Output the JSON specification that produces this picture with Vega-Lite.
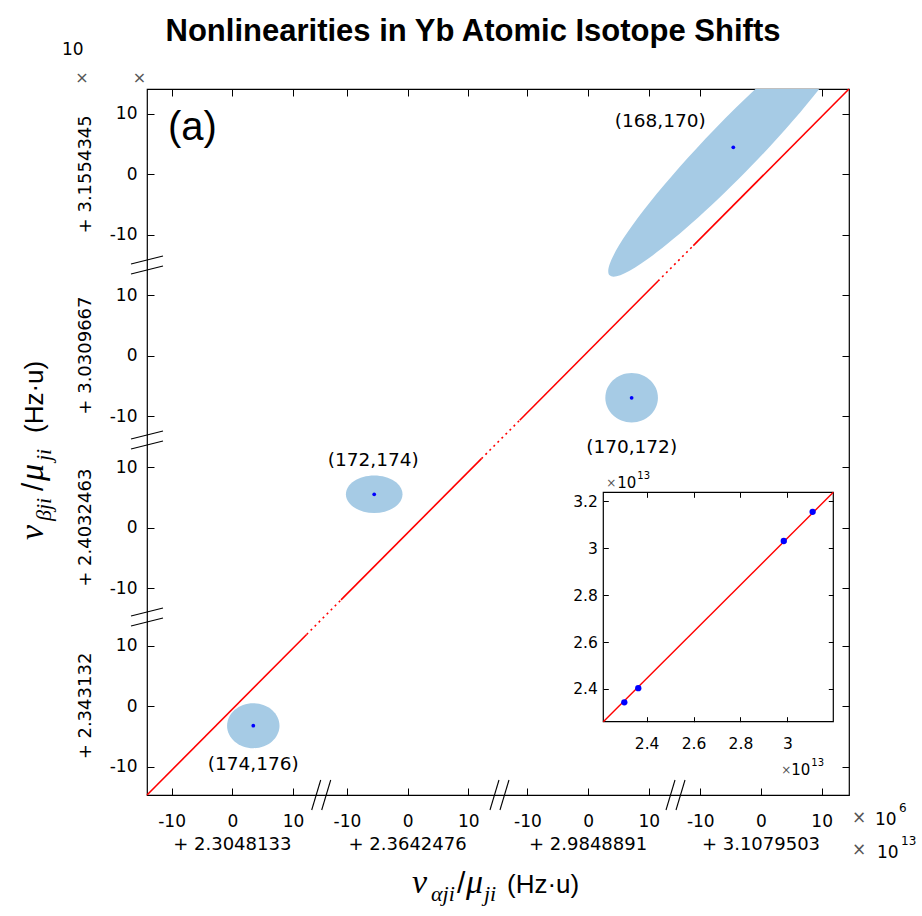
{
  "$schema": "https://vega.github.io/schema/vega-lite/v6.json",
  "width": 702,
  "height": 706,
  "autosize": {"type": "none"},
  "padding": {"left": 147, "top": 89, "right": 73, "bottom": 121},
  "background": "white",
  "title": {"text": "Nonlinearities in Yb Atomic Isotope Shifts", "font": "Liberation Sans", "fontSize": 31, "fontWeight": "bold", "color": "#000", "anchor": "middle", "frame": "group", "baseline": "alphabetic", "offset": 3, "dx": -25, "dy": 34},
  "config": {
    "view": {"stroke": "#000", "strokeWidth": 1.2},
    "axis": {"grid": false, "domain": false, "tickColor": "#000", "labelColor": "#000", "labelFont": "DejaVu Sans", "labelFontSize": 17, "tickWidth": 1, "labelFlush": false, "labelOverlap": false, "labelBound": false, "zindex": 1},
    "text": {"font": "DejaVu Sans", "color": "#000"}
  },
  "datasets": {
    "pairs": [
      {"pair": "(168,170)", "seg": 3, "xBase": 3.1079503, "yBase": 3.1554345, "xDev": -4.56, "yDev": 4.46},
      {"pair": "(170,172)", "seg": 2, "xBase": 2.9848891, "yBase": 3.0309667, "xDev": 7.17, "yDev": -6.98},
      {"pair": "(172,174)", "seg": 1, "xBase": 2.3642476, "yBase": 2.4032463, "xDev": -5.5, "yDev": 5.52},
      {"pair": "(174,176)", "seg": 0, "xBase": 2.3048133, "yBase": 2.343132, "xDev": 3.46, "yDev": -3.26}
    ],
    "fit": [
      {"piece": 1, "kind": "segment", "xseg": 0, "xDev": -14.05, "yseg": 0, "yDev": -14.71},
      {"piece": 1, "kind": "segment", "xseg": 0, "xDev": 12.25, "yseg": 0, "yDev": 11.83},
      {"piece": 2, "kind": "gap", "xseg": 0, "xDev": 12.25, "yseg": 0, "yDev": 11.83},
      {"piece": 2, "kind": "gap", "xseg": 1, "xDev": -10.97, "yseg": 1, "yDev": -11.93},
      {"piece": 3, "kind": "segment", "xseg": 1, "xDev": -10.97, "yseg": 1, "yDev": -11.93},
      {"piece": 3, "kind": "segment", "xseg": 1, "xDev": 12.17, "yseg": 1, "yDev": 11.42},
      {"piece": 4, "kind": "gap", "xseg": 1, "xDev": 12.17, "yseg": 1, "yDev": 11.42},
      {"piece": 4, "kind": "gap", "xseg": 2, "xDev": -11.27, "yseg": 2, "yDev": -10.69},
      {"piece": 5, "kind": "segment", "xseg": 2, "xDev": -11.27, "yseg": 2, "yDev": -10.69},
      {"piece": 5, "kind": "segment", "xseg": 2, "xDev": 11.53, "yseg": 2, "yDev": 12.32},
      {"piece": 6, "kind": "gap", "xseg": 2, "xDev": 11.53, "yseg": 2, "yDev": 12.32},
      {"piece": 6, "kind": "gap", "xseg": 3, "xDev": -11.15, "yseg": 3, "yDev": -11.79},
      {"piece": 7, "kind": "segment", "xseg": 3, "xDev": -11.15, "yseg": 3, "yDev": -11.79},
      {"piece": 7, "kind": "segment", "xseg": 3, "xDev": 14.5, "yseg": 3, "yDev": 14.1}
    ],
    "breaks": [
      {"axis": "x", "seg": 0, "dev": 14.73},
      {"axis": "x", "seg": 1, "dev": 15.22},
      {"axis": "x", "seg": 2, "dev": 14.48},
      {"axis": "y", "seg": 0, "dev": 14.71},
      {"axis": "y", "seg": 1, "dev": 14.5},
      {"axis": "y", "seg": 2, "dev": 14.96}
    ],
    "insetFit": [
      {"xBase": 2.2152, "yBase": 2.2604},
      {"xBase": 3.1961, "yBase": 3.2386}
    ]
  },
  "layer": [
    {"data": {"name": "pairs"},
     "transform": [{"filter": "datum.pair === '(174,176)'"}, {"calculate": "[14.05,42.93,72.67,101.15][datum.seg] + datum.xDev", "as": "xp"}, {"calculate": "[14.71,44.18,72.64,102.6][datum.seg] + datum.yDev", "as": "yp"}],
     "mark": {"type": "point", "shape": "M1,0C1,0.474 0.552,0.859 0,0.859C-0.552,0.859 -1,0.474 -1,0C-1,-0.474 -0.552,-0.859 0,-0.859C0.552,-0.859 1,-0.474 1,0Z", "size": 2746, "filled": true, "color": "#a6cbe5", "opacity": 1, "strokeWidth": 0},
     "encoding": {"x": {"field": "xp", "type": "quantitative", "scale": {"domain": [0, 115.65], "nice": false, "zero": false}, "axis": null}, "y": {"field": "yp", "type": "quantitative", "scale": {"domain": [0, 116.7], "nice": false, "zero": false}, "axis": null}}},
    {"data": {"name": "pairs"},
     "transform": [{"filter": "datum.pair === '(172,174)'"}, {"calculate": "[14.05,42.93,72.67,101.15][datum.seg] + datum.xDev", "as": "xp"}, {"calculate": "[14.71,44.18,72.64,102.6][datum.seg] + datum.yDev", "as": "yp"}],
     "mark": {"type": "point", "shape": "M1,0C1,0.365 0.552,0.661 0,0.661C-0.552,0.661 -1,0.365 -1,0C-1,-0.365 -0.552,-0.661 0,-0.661C0.552,-0.661 1,-0.365 1,0Z", "size": 3204, "filled": true, "color": "#a6cbe5", "opacity": 1, "strokeWidth": 0},
     "encoding": {"x": {"field": "xp", "type": "quantitative", "scale": {"domain": [0, 115.65], "nice": false, "zero": false}, "axis": null}, "y": {"field": "yp", "type": "quantitative", "scale": {"domain": [0, 116.7], "nice": false, "zero": false}, "axis": null}}},
    {"data": {"name": "pairs"},
     "transform": [{"filter": "datum.pair === '(170,172)'"}, {"calculate": "[14.05,42.93,72.67,101.15][datum.seg] + datum.xDev", "as": "xp"}, {"calculate": "[14.71,44.18,72.64,102.6][datum.seg] + datum.yDev", "as": "yp"}],
     "mark": {"type": "point", "shape": "M1,0C1,0.519 0.552,0.939 0,0.939C-0.552,0.939 -1,0.519 -1,0C-1,-0.519 -0.552,-0.939 0,-0.939C0.552,-0.939 1,-0.519 1,0Z", "size": 2767, "filled": true, "color": "#a6cbe5", "opacity": 1, "strokeWidth": 0},
     "encoding": {"x": {"field": "xp", "type": "quantitative", "scale": {"domain": [0, 115.65], "nice": false, "zero": false}, "axis": null}, "y": {"field": "yp", "type": "quantitative", "scale": {"domain": [0, 116.7], "nice": false, "zero": false}, "axis": null}}},
    {"data": {"name": "pairs"},
     "transform": [{"filter": "datum.pair === '(168,170)'"}, {"calculate": "[14.05,42.93,72.67,101.15][datum.seg] + datum.xDev", "as": "xp"}, {"calculate": "[14.71,44.18,72.64,102.6][datum.seg] + datum.yDev", "as": "yp"}],
     "mark": {"type": "point", "shape": "M1,0C1,0.0806 0.552,0.146 0,0.146C-0.552,0.146 -1,0.0806 -1,0C-1,-0.0806 -0.552,-0.146 0,-0.146C0.552,-0.146 1,-0.0806 1,0Z", "size": 126736, "angle": -46, "filled": true, "color": "#a6cbe5", "opacity": 1, "strokeWidth": 0, "clip": true},
     "encoding": {"x": {"field": "xp", "type": "quantitative", "scale": {"domain": [0, 115.65], "nice": false, "zero": false}, "axis": null}, "y": {"field": "yp", "type": "quantitative", "scale": {"domain": [0, 116.7], "nice": false, "zero": false}, "axis": null}}},
    {"data": {"name": "fit"},
     "transform": [{"filter": "datum.kind === 'segment'"}, {"calculate": "[14.05,42.93,72.67,101.15][datum.xseg] + datum.xDev", "as": "xp"}, {"calculate": "[14.71,44.18,72.64,102.6][datum.yseg] + datum.yDev", "as": "yp"}],
     "mark": {"type": "line", "color": "#ff0000", "strokeWidth": 1.6},
     "encoding": {"x": {"field": "xp", "type": "quantitative", "scale": {"domain": [0, 115.65], "nice": false, "zero": false}, "axis": null}, "y": {"field": "yp", "type": "quantitative", "scale": {"domain": [0, 116.7], "nice": false, "zero": false}, "axis": null}, "detail": {"field": "piece"}}},
    {"data": {"name": "fit"},
     "transform": [{"filter": "datum.kind === 'gap'"}, {"calculate": "[14.05,42.93,72.67,101.15][datum.xseg] + datum.xDev", "as": "xp"}, {"calculate": "[14.71,44.18,72.64,102.6][datum.yseg] + datum.yDev", "as": "yp"}],
     "mark": {"type": "line", "color": "#ff0000", "strokeWidth": 1.6, "strokeDash": [2, 3.7]},
     "encoding": {"x": {"field": "xp", "type": "quantitative", "scale": {"domain": [0, 115.65], "nice": false, "zero": false}, "axis": null}, "y": {"field": "yp", "type": "quantitative", "scale": {"domain": [0, 116.7], "nice": false, "zero": false}, "axis": null}, "detail": {"field": "piece"}}},
    {"data": {"name": "pairs"},
     "transform": [{"calculate": "[14.05,42.93,72.67,101.15][datum.seg] + datum.xDev", "as": "xp"}, {"calculate": "[14.71,44.18,72.64,102.6][datum.seg] + datum.yDev", "as": "yp"}],
     "mark": {"type": "point", "shape": "circle", "filled": true, "color": "#0000ff", "opacity": 1, "size": 14},
     "encoding": {"x": {"field": "xp", "type": "quantitative", "scale": {"domain": [0, 115.65], "nice": false, "zero": false}, "axis": null}, "y": {"field": "yp", "type": "quantitative", "scale": {"domain": [0, 116.7], "nice": false, "zero": false}, "axis": null}}},
    {"data": {"name": "pairs"},
     "transform": [{"filter": "datum.pair === '(168,170)'"}, {"calculate": "[14.05,42.93,72.67,101.15][datum.seg] + datum.xDev", "as": "xp"}, {"calculate": "[14.71,44.18,72.64,102.6][datum.seg] + datum.yDev", "as": "yp"}],
     "mark": {"type": "text", "fontSize": 18.5, "align": "center", "baseline": "middle", "dx": -73, "dy": -26},
     "encoding": {"x": {"field": "xp", "type": "quantitative", "scale": {"domain": [0, 115.65], "nice": false, "zero": false}, "axis": null}, "y": {"field": "yp", "type": "quantitative", "scale": {"domain": [0, 116.7], "nice": false, "zero": false}, "axis": null}, "text": {"field": "pair"}}},
    {"data": {"name": "pairs"},
     "transform": [{"filter": "datum.pair === '(170,172)'"}, {"calculate": "[14.05,42.93,72.67,101.15][datum.seg] + datum.xDev", "as": "xp"}, {"calculate": "[14.71,44.18,72.64,102.6][datum.seg] + datum.yDev", "as": "yp"}],
     "mark": {"type": "text", "fontSize": 18.5, "align": "center", "baseline": "middle", "dx": 0, "dy": 49},
     "encoding": {"x": {"field": "xp", "type": "quantitative", "scale": {"domain": [0, 115.65], "nice": false, "zero": false}, "axis": null}, "y": {"field": "yp", "type": "quantitative", "scale": {"domain": [0, 116.7], "nice": false, "zero": false}, "axis": null}, "text": {"field": "pair"}}},
    {"data": {"name": "pairs"},
     "transform": [{"filter": "datum.pair === '(172,174)'"}, {"calculate": "[14.05,42.93,72.67,101.15][datum.seg] + datum.xDev", "as": "xp"}, {"calculate": "[14.71,44.18,72.64,102.6][datum.seg] + datum.yDev", "as": "yp"}],
     "mark": {"type": "text", "fontSize": 18.5, "align": "center", "baseline": "middle", "dx": -1, "dy": -34},
     "encoding": {"x": {"field": "xp", "type": "quantitative", "scale": {"domain": [0, 115.65], "nice": false, "zero": false}, "axis": null}, "y": {"field": "yp", "type": "quantitative", "scale": {"domain": [0, 116.7], "nice": false, "zero": false}, "axis": null}, "text": {"field": "pair"}}},
    {"data": {"name": "pairs"},
     "transform": [{"filter": "datum.pair === '(174,176)'"}, {"calculate": "[14.05,42.93,72.67,101.15][datum.seg] + datum.xDev", "as": "xp"}, {"calculate": "[14.71,44.18,72.64,102.6][datum.seg] + datum.yDev", "as": "yp"}],
     "mark": {"type": "text", "fontSize": 18.5, "align": "center", "baseline": "middle", "dx": 0, "dy": 38},
     "encoding": {"x": {"field": "xp", "type": "quantitative", "scale": {"domain": [0, 115.65], "nice": false, "zero": false}, "axis": null}, "y": {"field": "yp", "type": "quantitative", "scale": {"domain": [0, 116.7], "nice": false, "zero": false}, "axis": null}, "text": {"field": "pair"}}},
    {"data": {"name": "pairs"},
     "transform": [{"calculate": "[14.05,42.93,72.67,101.15][datum.seg]", "as": "x0"}, {"calculate": "'+ ' + datum.xBase", "as": "xLabel"}],
     "mark": {"type": "text", "fontSize": 18, "align": "center", "baseline": "middle", "dy": 50},
     "encoding": {"x": {"field": "x0", "type": "quantitative", "scale": {"domain": [0, 115.65], "nice": false, "zero": false}, "axis": null}, "y": {"datum": 0, "scale": {"domain": [0, 116.7], "nice": false, "zero": false}, "axis": null}, "text": {"field": "xLabel"}}},
    {"data": {"name": "pairs"},
     "transform": [{"calculate": "[14.71,44.18,72.64,102.6][datum.seg]", "as": "y0"}, {"calculate": "'+ ' + datum.yBase", "as": "yLabel"}],
     "mark": {"type": "text", "fontSize": 18, "align": "center", "baseline": "middle", "angle": 270, "dy": -61},
     "encoding": {"x": {"datum": 0, "scale": {"domain": [0, 115.65], "nice": false, "zero": false}, "axis": null}, "y": {"field": "y0", "type": "quantitative", "scale": {"domain": [0, 116.7], "nice": false, "zero": false}, "axis": null}, "text": {"field": "yLabel"}}},
    {"data": {"name": "breaks"},
     "transform": [{"filter": "datum.axis === 'x'"}, {"calculate": "[14.05,42.93,72.67,101.15][datum.seg] + datum.dev", "as": "xp"}],
     "mark": {"type": "rule", "color": "#000", "strokeWidth": 1.1, "xOffset": -10, "x2Offset": -1, "yOffset": 15, "y2Offset": -15},
     "encoding": {"x": {"field": "xp", "type": "quantitative", "scale": {"domain": [0, 115.65], "nice": false, "zero": false}, "axis": null}, "x2": {"field": "xp"}, "y": {"datum": 0, "scale": {"domain": [0, 116.7], "nice": false, "zero": false}, "axis": null}, "y2": {"datum": 0}}},
    {"data": {"name": "breaks"},
     "transform": [{"filter": "datum.axis === 'x'"}, {"calculate": "[14.05,42.93,72.67,101.15][datum.seg] + datum.dev", "as": "xp"}],
     "mark": {"type": "rule", "color": "#000", "strokeWidth": 1.1, "xOffset": 0, "x2Offset": 9, "yOffset": 15, "y2Offset": -15},
     "encoding": {"x": {"field": "xp", "type": "quantitative", "scale": {"domain": [0, 115.65], "nice": false, "zero": false}, "axis": null}, "x2": {"field": "xp"}, "y": {"datum": 0, "scale": {"domain": [0, 116.7], "nice": false, "zero": false}, "axis": null}, "y2": {"datum": 0}}},
    {"data": {"name": "breaks"},
     "transform": [{"filter": "datum.axis === 'y'"}, {"calculate": "[14.71,44.18,72.64,102.6][datum.seg] + datum.dev", "as": "yp"}],
     "mark": {"type": "rule", "color": "#000", "strokeWidth": 1.1, "xOffset": -16, "x2Offset": 16, "yOffset": -1, "y2Offset": -9},
     "encoding": {"x": {"datum": 0, "scale": {"domain": [0, 115.65], "nice": false, "zero": false}, "axis": null}, "x2": {"datum": 0}, "y": {"field": "yp", "type": "quantitative", "scale": {"domain": [0, 116.7], "nice": false, "zero": false}, "axis": null}, "y2": {"field": "yp"}}},
    {"data": {"name": "breaks"},
     "transform": [{"filter": "datum.axis === 'y'"}, {"calculate": "[14.71,44.18,72.64,102.6][datum.seg] + datum.dev", "as": "yp"}],
     "mark": {"type": "rule", "color": "#000", "strokeWidth": 1.1, "xOffset": -16, "x2Offset": 16, "yOffset": 9, "y2Offset": 1},
     "encoding": {"x": {"datum": 0, "scale": {"domain": [0, 115.65], "nice": false, "zero": false}, "axis": null}, "x2": {"datum": 0}, "y": {"field": "yp", "type": "quantitative", "scale": {"domain": [0, 116.7], "nice": false, "zero": false}, "axis": null}, "y2": {"field": "yp"}}},
    {"data": {"values": [{}]},
     "mark": {"type": "text", "text": "(a)", "font": "Liberation Sans", "fontSize": 40, "align": "left", "baseline": "middle", "dx": 21, "dy": 39},
     "encoding": {"x": {"datum": 0, "scale": {"domain": [0, 115.65], "nice": false, "zero": false}, "axis": null}, "y": {"datum": 116.7, "scale": {"domain": [0, 116.7], "nice": false, "zero": false}, "axis": null}}},
    {"data": {"values": [{}]},
     "mark": {"type": "text", "text": "10", "fontSize": 17, "align": "left", "baseline": "alphabetic", "dx": -85, "dy": -34},
     "encoding": {"x": {"datum": 0, "scale": {"domain": [0, 115.65], "nice": false, "zero": false}, "axis": null}, "y": {"datum": 116.7, "scale": {"domain": [0, 116.7], "nice": false, "zero": false}, "axis": null}}},
    {"data": {"values": [{}]},
     "mark": {"type": "text", "text": "×", "fontSize": 16, "color": "#555", "align": "center", "baseline": "middle", "dx": -65, "dy": -11},
     "encoding": {"x": {"datum": 0, "scale": {"domain": [0, 115.65], "nice": false, "zero": false}, "axis": null}, "y": {"datum": 116.7, "scale": {"domain": [0, 116.7], "nice": false, "zero": false}, "axis": null}}},
    {"data": {"values": [{}]},
     "mark": {"type": "text", "text": "×", "fontSize": 16, "color": "#555", "align": "center", "baseline": "middle", "dx": -7.5, "dy": -11},
     "encoding": {"x": {"datum": 0, "scale": {"domain": [0, 115.65], "nice": false, "zero": false}, "axis": null}, "y": {"datum": 116.7, "scale": {"domain": [0, 116.7], "nice": false, "zero": false}, "axis": null}}},
    {"data": {"values": [{}]},
     "mark": {"type": "text", "text": "×", "fontSize": 17, "color": "#555", "align": "center", "baseline": "middle", "dx": 10, "dy": 23},
     "encoding": {"x": {"datum": 115.65, "scale": {"domain": [0, 115.65], "nice": false, "zero": false}, "axis": null}, "y": {"datum": 0, "scale": {"domain": [0, 116.7], "nice": false, "zero": false}, "axis": null}}},
    {"data": {"values": [{}]},
     "mark": {"type": "text", "text": "10", "fontSize": 17, "align": "left", "baseline": "alphabetic", "dx": 26, "dy": 30},
     "encoding": {"x": {"datum": 115.65, "scale": {"domain": [0, 115.65], "nice": false, "zero": false}, "axis": null}, "y": {"datum": 0, "scale": {"domain": [0, 116.7], "nice": false, "zero": false}, "axis": null}}},
    {"data": {"values": [{}]},
     "mark": {"type": "text", "text": "6", "fontSize": 12, "align": "left", "baseline": "alphabetic", "dx": 50, "dy": 17},
     "encoding": {"x": {"datum": 115.65, "scale": {"domain": [0, 115.65], "nice": false, "zero": false}, "axis": null}, "y": {"datum": 0, "scale": {"domain": [0, 116.7], "nice": false, "zero": false}, "axis": null}}},
    {"data": {"values": [{}]},
     "mark": {"type": "text", "text": "×", "fontSize": 17, "color": "#555", "align": "center", "baseline": "middle", "dx": 10, "dy": 55},
     "encoding": {"x": {"datum": 115.65, "scale": {"domain": [0, 115.65], "nice": false, "zero": false}, "axis": null}, "y": {"datum": 0, "scale": {"domain": [0, 116.7], "nice": false, "zero": false}, "axis": null}}},
    {"data": {"values": [{}]},
     "mark": {"type": "text", "text": "10", "fontSize": 17, "align": "left", "baseline": "alphabetic", "dx": 28, "dy": 63},
     "encoding": {"x": {"datum": 115.65, "scale": {"domain": [0, 115.65], "nice": false, "zero": false}, "axis": null}, "y": {"datum": 0, "scale": {"domain": [0, 116.7], "nice": false, "zero": false}, "axis": null}}},
    {"data": {"values": [{}]},
     "mark": {"type": "text", "text": "13", "fontSize": 12, "align": "left", "baseline": "alphabetic", "dx": 52, "dy": 50},
     "encoding": {"x": {"datum": 115.65, "scale": {"domain": [0, 115.65], "nice": false, "zero": false}, "axis": null}, "y": {"datum": 0, "scale": {"domain": [0, 116.7], "nice": false, "zero": false}, "axis": null}}},
    {"data": {"values": [{}]},
     "mark": {"type": "text", "text": "ν", "font": "Liberation Serif", "fontStyle": "italic", "fontSize": 34, "align": "left", "baseline": "alphabetic", "dx": 265, "dy": 98},
     "encoding": {"x": {"datum": 0, "scale": {"domain": [0, 115.65], "nice": false, "zero": false}, "axis": null}, "y": {"datum": 0, "scale": {"domain": [0, 116.7], "nice": false, "zero": false}, "axis": null}}},
    {"data": {"values": [{}]},
     "mark": {"type": "text", "text": "αji", "font": "Liberation Serif", "fontStyle": "italic", "fontSize": 22, "align": "left", "baseline": "alphabetic", "dx": 284, "dy": 106},
     "encoding": {"x": {"datum": 0, "scale": {"domain": [0, 115.65], "nice": false, "zero": false}, "axis": null}, "y": {"datum": 0, "scale": {"domain": [0, 116.7], "nice": false, "zero": false}, "axis": null}}},
    {"data": {"values": [{}]},
     "mark": {"type": "text", "text": "/", "font": "Liberation Sans", "fontSize": 30, "align": "left", "baseline": "alphabetic", "dx": 310, "dy": 98},
     "encoding": {"x": {"datum": 0, "scale": {"domain": [0, 115.65], "nice": false, "zero": false}, "axis": null}, "y": {"datum": 0, "scale": {"domain": [0, 116.7], "nice": false, "zero": false}, "axis": null}}},
    {"data": {"values": [{}]},
     "mark": {"type": "text", "text": "μ", "font": "Liberation Serif", "fontStyle": "italic", "fontSize": 34, "align": "left", "baseline": "alphabetic", "dx": 319, "dy": 98},
     "encoding": {"x": {"datum": 0, "scale": {"domain": [0, 115.65], "nice": false, "zero": false}, "axis": null}, "y": {"datum": 0, "scale": {"domain": [0, 116.7], "nice": false, "zero": false}, "axis": null}}},
    {"data": {"values": [{}]},
     "mark": {"type": "text", "text": "ji", "font": "Liberation Serif", "fontStyle": "italic", "fontSize": 22, "align": "left", "baseline": "alphabetic", "dx": 337, "dy": 106},
     "encoding": {"x": {"datum": 0, "scale": {"domain": [0, 115.65], "nice": false, "zero": false}, "axis": null}, "y": {"datum": 0, "scale": {"domain": [0, 116.7], "nice": false, "zero": false}, "axis": null}}},
    {"data": {"values": [{}]},
     "mark": {"type": "text", "text": "(Hz·u)", "font": "Liberation Sans", "fontSize": 26, "align": "left", "baseline": "alphabetic", "dx": 360, "dy": 98},
     "encoding": {"x": {"datum": 0, "scale": {"domain": [0, 115.65], "nice": false, "zero": false}, "axis": null}, "y": {"datum": 0, "scale": {"domain": [0, 116.7], "nice": false, "zero": false}, "axis": null}}},
    {"data": {"values": [{}]},
     "mark": {"type": "text", "text": "ν", "font": "Liberation Serif", "fontStyle": "italic", "fontSize": 34, "align": "left", "baseline": "alphabetic", "angle": 270, "dx": 255, "dy": -104},
     "encoding": {"x": {"datum": 0, "scale": {"domain": [0, 115.65], "nice": false, "zero": false}, "axis": null}, "y": {"datum": 0, "scale": {"domain": [0, 116.7], "nice": false, "zero": false}, "axis": null}}},
    {"data": {"values": [{}]},
     "mark": {"type": "text", "text": "βji", "font": "Liberation Serif", "fontStyle": "italic", "fontSize": 22, "align": "left", "baseline": "alphabetic", "angle": 270, "dx": 274, "dy": -96},
     "encoding": {"x": {"datum": 0, "scale": {"domain": [0, 115.65], "nice": false, "zero": false}, "axis": null}, "y": {"datum": 0, "scale": {"domain": [0, 116.7], "nice": false, "zero": false}, "axis": null}}},
    {"data": {"values": [{}]},
     "mark": {"type": "text", "text": "/", "font": "Liberation Sans", "fontSize": 30, "align": "left", "baseline": "alphabetic", "angle": 270, "dx": 304, "dy": -104},
     "encoding": {"x": {"datum": 0, "scale": {"domain": [0, 115.65], "nice": false, "zero": false}, "axis": null}, "y": {"datum": 0, "scale": {"domain": [0, 116.7], "nice": false, "zero": false}, "axis": null}}},
    {"data": {"values": [{}]},
     "mark": {"type": "text", "text": "μ", "font": "Liberation Serif", "fontStyle": "italic", "fontSize": 34, "align": "left", "baseline": "alphabetic", "angle": 270, "dx": 314, "dy": -104},
     "encoding": {"x": {"datum": 0, "scale": {"domain": [0, 115.65], "nice": false, "zero": false}, "axis": null}, "y": {"datum": 0, "scale": {"domain": [0, 116.7], "nice": false, "zero": false}, "axis": null}}},
    {"data": {"values": [{}]},
     "mark": {"type": "text", "text": "ji", "font": "Liberation Serif", "fontStyle": "italic", "fontSize": 22, "align": "left", "baseline": "alphabetic", "angle": 270, "dx": 334, "dy": -96},
     "encoding": {"x": {"datum": 0, "scale": {"domain": [0, 115.65], "nice": false, "zero": false}, "axis": null}, "y": {"datum": 0, "scale": {"domain": [0, 116.7], "nice": false, "zero": false}, "axis": null}}},
    {"data": {"values": [{}]},
     "mark": {"type": "text", "text": "(Hz·u)", "font": "Liberation Sans", "fontSize": 26, "align": "left", "baseline": "alphabetic", "angle": 270, "dx": 362, "dy": -104},
     "encoding": {"x": {"datum": 0, "scale": {"domain": [0, 115.65], "nice": false, "zero": false}, "axis": null}, "y": {"datum": 0, "scale": {"domain": [0, 116.7], "nice": false, "zero": false}, "axis": null}}},
    {"data": {"values": [{}]},
     "mark": {"type": "point", "opacity": 0},
     "encoding": {
       "x": {"datum": 0, "type": "quantitative", "scale": {"domain": [0, 115.65], "nice": false, "zero": false},
         "axis": {"orient": "bottom", "title": null, "values": [4.05,14.05,24.05,32.93,42.93,52.93,62.67,72.67,82.67,91.15,101.15,111.15], "labelExpr": "'' + round(datum.value - (datum.value < 28.8 ? 14.05 : datum.value < 58.2 ? 42.93 : datum.value < 87.2 ? 72.67 : 101.15))", "tickSize": -7, "labelPadding": 25}},
       "y": {"datum": 0, "type": "quantitative", "scale": {"domain": [0, 116.7], "nice": false, "zero": false},
         "axis": {"orient": "left", "title": null, "values": [4.71,14.71,24.71,34.18,44.18,54.18,62.64,72.64,82.64,92.6,102.6,112.6], "labelExpr": "'' + round(datum.value - (datum.value < 29.4 ? 14.71 : datum.value < 58.7 ? 44.18 : datum.value < 87.6 ? 72.64 : 102.6))", "tickSize": -7, "labelPadding": 17}}
     }},
    {"data": {"values": [{}]},
     "mark": {"type": "point", "opacity": 0},
     "encoding": {
       "x": {"datum": 0, "type": "quantitative", "scale": {"domain": [0, 115.65], "nice": false, "zero": false},
         "axis": {"orient": "top", "title": null, "values": [4.05,14.05,24.05,32.93,42.93,52.93,62.67,72.67,82.67,91.15,101.15,111.15], "labels": false, "tickSize": -7}},
       "y": {"datum": 0, "type": "quantitative", "scale": {"domain": [0, 116.7], "nice": false, "zero": false},
         "axis": {"orient": "right", "title": null, "values": [4.71,14.71,24.71,34.18,44.18,54.18,62.64,72.64,82.64,92.6,102.6,112.6], "labels": false, "tickSize": -7}}
     }},
    {"data": {"values": [{}]},
     "mark": {"type": "rect", "fill": "white", "stroke": "#000", "strokeWidth": 1.2},
     "encoding": {"x": {"datum": 2.2152, "scale": {"domain": [2.2152, 3.1961], "range": [456.3, 686.3], "nice": false, "zero": false}, "axis": null}, "x2": {"datum": 3.1961}, "y": {"datum": 2.2604, "scale": {"domain": [2.2604, 3.2386], "range": [632.7, 403.3], "nice": false, "zero": false}, "axis": null}, "y2": {"datum": 3.2386}}},
    {"data": {"name": "insetFit"},
     "mark": {"type": "line", "color": "#ff0000", "strokeWidth": 1.4},
     "encoding": {"x": {"field": "xBase", "type": "quantitative", "scale": {"domain": [2.2152, 3.1961], "range": [456.3, 686.3], "nice": false, "zero": false}, "axis": null}, "y": {"field": "yBase", "type": "quantitative", "scale": {"domain": [2.2604, 3.2386], "range": [632.7, 403.3], "nice": false, "zero": false}, "axis": null}}},
    {"data": {"name": "pairs"},
     "mark": {"type": "point", "shape": "circle", "filled": true, "color": "#0000ff", "opacity": 1, "size": 40},
     "encoding": {"x": {"field": "xBase", "type": "quantitative", "scale": {"domain": [2.2152, 3.1961], "range": [456.3, 686.3], "nice": false, "zero": false}, "axis": null}, "y": {"field": "yBase", "type": "quantitative", "scale": {"domain": [2.2604, 3.2386], "range": [632.7, 403.3], "nice": false, "zero": false}, "axis": null}}},
    {"data": {"values": [{}]},
     "mark": {"type": "text", "text": "×", "fontSize": 12, "color": "#555", "align": "left", "baseline": "alphabetic", "dx": 3, "dy": -5},
     "encoding": {"x": {"datum": 2.2152, "scale": {"domain": [2.2152, 3.1961], "range": [456.3, 686.3], "nice": false, "zero": false}, "axis": null}, "y": {"datum": 3.2386, "scale": {"domain": [2.2604, 3.2386], "range": [632.7, 403.3], "nice": false, "zero": false}, "axis": null}}},
    {"data": {"values": [{}]},
     "mark": {"type": "text", "text": "10", "fontSize": 15, "align": "left", "baseline": "alphabetic", "dx": 14, "dy": -4},
     "encoding": {"x": {"datum": 2.2152, "scale": {"domain": [2.2152, 3.1961], "range": [456.3, 686.3], "nice": false, "zero": false}, "axis": null}, "y": {"datum": 3.2386, "scale": {"domain": [2.2604, 3.2386], "range": [632.7, 403.3], "nice": false, "zero": false}, "axis": null}}},
    {"data": {"values": [{}]},
     "mark": {"type": "text", "text": "13", "fontSize": 10, "align": "left", "baseline": "alphabetic", "dx": 34, "dy": -13},
     "encoding": {"x": {"datum": 2.2152, "scale": {"domain": [2.2152, 3.1961], "range": [456.3, 686.3], "nice": false, "zero": false}, "axis": null}, "y": {"datum": 3.2386, "scale": {"domain": [2.2604, 3.2386], "range": [632.7, 403.3], "nice": false, "zero": false}, "axis": null}}},
    {"data": {"values": [{}]},
     "mark": {"type": "text", "text": "×", "fontSize": 12, "color": "#555", "align": "left", "baseline": "alphabetic", "dx": -52, "dy": 52},
     "encoding": {"x": {"datum": 3.1961, "scale": {"domain": [2.2152, 3.1961], "range": [456.3, 686.3], "nice": false, "zero": false}, "axis": null}, "y": {"datum": 2.2604, "scale": {"domain": [2.2604, 3.2386], "range": [632.7, 403.3], "nice": false, "zero": false}, "axis": null}}},
    {"data": {"values": [{}]},
     "mark": {"type": "text", "text": "10", "fontSize": 15, "align": "left", "baseline": "alphabetic", "dx": -42, "dy": 53},
     "encoding": {"x": {"datum": 3.1961, "scale": {"domain": [2.2152, 3.1961], "range": [456.3, 686.3], "nice": false, "zero": false}, "axis": null}, "y": {"datum": 2.2604, "scale": {"domain": [2.2604, 3.2386], "range": [632.7, 403.3], "nice": false, "zero": false}, "axis": null}}},
    {"data": {"values": [{}]},
     "mark": {"type": "text", "text": "13", "fontSize": 10, "align": "left", "baseline": "alphabetic", "dx": -22, "dy": 44},
     "encoding": {"x": {"datum": 3.1961, "scale": {"domain": [2.2152, 3.1961], "range": [456.3, 686.3], "nice": false, "zero": false}, "axis": null}, "y": {"datum": 2.2604, "scale": {"domain": [2.2604, 3.2386], "range": [632.7, 403.3], "nice": false, "zero": false}, "axis": null}}},
    {"data": {"values": [{}]},
     "mark": {"type": "point", "opacity": 0},
     "encoding": {
       "x": {"datum": 2.5, "type": "quantitative", "scale": {"domain": [2.2152, 3.1961], "range": [456.3, 686.3], "nice": false, "zero": false},
         "axis": {"orient": "bottom", "title": null, "offset": -73.3, "values": [2.4, 2.6, 2.8, 3], "format": "~g", "tickSize": -5, "labelPadding": 20, "labelFontSize": 15.5, "zindex": 2}},
       "y": {"datum": 2.5, "type": "quantitative", "scale": {"domain": [2.2604, 3.2386], "range": [632.7, 403.3], "nice": false, "zero": false},
         "axis": {"orient": "left", "title": null, "offset": -456.3, "values": [2.4, 2.6, 2.8, 3, 3.2], "format": "~g", "tickSize": -5, "labelPadding": 11, "labelFontSize": 15.5, "zindex": 2}}
     }},
    {"data": {"values": [{}]},
     "mark": {"type": "point", "opacity": 0},
     "encoding": {
       "x": {"datum": 2.5, "type": "quantitative", "scale": {"domain": [2.2152, 3.1961], "range": [456.3, 686.3], "nice": false, "zero": false},
         "axis": {"orient": "top", "title": null, "offset": -403.3, "values": [2.4, 2.6, 2.8, 3], "labels": false, "tickSize": -5, "zindex": 2}},
       "y": {"datum": 2.5, "type": "quantitative", "scale": {"domain": [2.2604, 3.2386], "range": [632.7, 403.3], "nice": false, "zero": false},
         "axis": {"orient": "right", "title": null, "offset": -15.7, "values": [2.4, 2.6, 2.8, 3, 3.2], "labels": false, "tickSize": -5, "zindex": 2}}
     }}
  ],
  "resolve": {"scale": {"x": "independent", "y": "independent"}}
}
